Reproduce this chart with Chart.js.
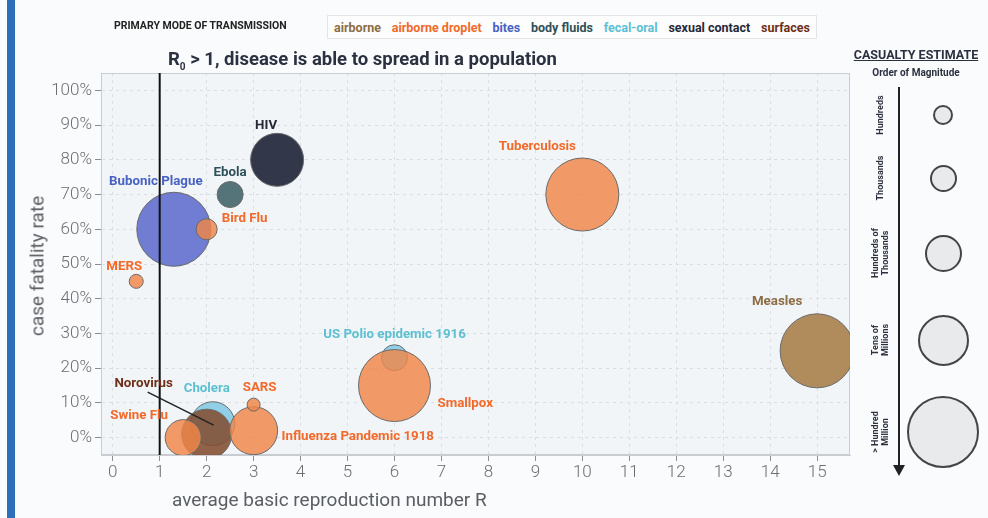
<!DOCTYPE html>
<html>
<head>
<meta charset="utf-8">
<script src="https://cdn.jsdelivr.net/npm/chart.js@4.4.1/dist/chart.umd.min.js"></script>
<style>
body { margin: 0; background: #fafbfc; font-family: Roboto, "Noto Sans", sans-serif; }
#wrap { position: relative; width: 988px; height: 518px; overflow: hidden; }
#chart { position: absolute; left: 0; top: 0; }
.bar { position: absolute; left: 7px; top: 0; width: 8px; height: 518px; background: #2d6fba; }
.head { position: absolute; left: 114px; top: 19px; font-size: 10.5px; font-weight: 700; color: #222; }
.modes { position: absolute; left: 327px; top: 15px; width: 476px; height: 22px; padding: 0 6px;
  border: 1px solid #e2e4e6; background: #fdfdfd; display: flex; justify-content: space-between;
  align-items: center; font-size: 12.5px; font-weight: 700; }
.title { position: absolute; left: 168px; top: 48px; font-size: 18.5px; font-weight: 700; color: #2b3140; }
.title sub { font-size: 10px; }
.ytitle { position: absolute; left: 37px; top: 266px; transform: translate(-50%, -50%) rotate(-90deg);
  font-size: 19px; color: #5a5e63; white-space: nowrap; }
.xtitle { position: absolute; left: 172px; top: 488px; font-size: 19px; color: #5a5e63; }
.cas { position: absolute; left: 851px; top: 47px; width: 130px; text-align: center; font-size: 12.5px;
  font-weight: 700; color: #2b3140; text-decoration: underline; }
.mag { position: absolute; left: 851px; top: 67px; width: 130px; text-align: center; font-size: 10px;
  font-weight: 700; color: #2b3140; }
.arrow { position: absolute; left: 898px; top: 87px; width: 2px; height: 380px; background: #222; }
.head2 { position: absolute; left: 893px; top: 465px; width: 0; height: 0; border-left: 6px solid transparent;
  border-right: 6px solid transparent; border-top: 11px solid #222; }
.lvl { position: absolute; left: 880px; transform: translate(-50%, -50%) rotate(-90deg); text-align: center;
  font-size: 9px; font-weight: 700; line-height: 10px; color: #2b3140; white-space: nowrap; }
.dot { position: absolute; border: 2px solid #444; border-radius: 50%; background: #e9eaeb; box-sizing: border-box; }
</style>
</head>
<body>
<div id="wrap">
  <canvas id="chart" width="988" height="518"></canvas>
  <div class="bar"></div>
  <div class="head">PRIMARY MODE OF TRANSMISSION</div>
  <div class="modes" id="modes"></div>
  <div class="title">R<sub>0</sub> &gt; 1, disease is able to spread in a population</div>
  <div class="ytitle">case fatality rate</div>
  <div class="xtitle">average basic reproduction number R</div>
  <div class="cas">CASUALTY ESTIMATE</div>
  <div class="mag">Order of Magnitude</div>
  <div class="arrow"></div>
  <div class="head2"></div>
  <div id="levels"></div>
</div>
<script>
/* donnees */
var diseases = ["Cholera", "Norovirus", "Swine Flu", "Influenza Pandemic 1918", "SARS",
  "US Polio epidemic 1916", "Smallpox", "Bubonic Plague", "Bird Flu", "MERS", "Ebola", "HIV", "Tuberculosis", "Measles"];
var r0 = [2.13, 2.0, 1.5, 3.0, 3.0, 6.0, 6.0, 1.3, 2.0, 0.5, 2.5, 3.5, 10, 15];
var fatality = [4, 1, 0, 2, 9.5, 23, 15, 60, 60, 45, 70, 80, 70, 25];
var bubbleSize = [22, 25, 18, 24, 6.5, 13, 36, 37, 10.5, 7, 13, 26.5, 36.5, 37];
var mode = ["fecal-oral", "surfaces", "airborne droplet", "airborne droplet", "airborne droplet",
  "fecal-oral", "airborne droplet", "bites", "airborne droplet", "airborne droplet", "body fluids",
  "sexual contact", "airborne droplet", "airborne"];

var modes = ["airborne", "airborne droplet", "bites", "body fluids", "fecal-oral", "sexual contact", "surfaces"];
var xTicks = [0, 1, 2, 3, 4, 5, 6, 7, 8, 9, 10, 11, 12, 13, 14, 15];
var yTicks = [0, 10, 20, 30, 40, 50, 60, 70, 80, 90, 100];
var casualtyLevels = ["Hundreds", "Thousands", "Hundreds of<br>Thousands", "Tens of<br>Millions", "&gt; Hundred<br>Million"];

/* couleurs */
var textColors = {
  "airborne": "#8c6d44", "airborne droplet": "#f26a2a", "bites": "#4862c2", "body fluids": "#2e5058",
  "fecal-oral": "#5cc0d2", "sexual contact": "#262838", "surfaces": "#6e2e18"
};
var fillColors = {
  "airborne": "rgba(170,130,78,0.92)", "airborne droplet": "rgba(240,134,72,0.82)",
  "bites": "rgba(98,112,205,0.9)", "body fluids": "rgba(70,104,110,0.92)",
  "fecal-oral": "rgba(128,200,228,0.85)", "sexual contact": "rgba(40,44,64,0.95)",
  "surfaces": "rgba(130,78,48,0.88)"
};

/* position des etiquettes par rapport au centre des bulles */
var labelPos = [[-6, -35, "center"], [-63, -50, "center"], [-44, -22, "center"], [28, 6, "left"],
  [6, -17, "center"], [0, -23, "center"], [43, 18, "left"], [-18, -48, "center"], [15, -11, "left"],
  [-12, -15, "center"], [0, -22, "center"], [-11, -34, "center"], [-45, -48, "center"], [-40, -49, "center"]];

/* legende du haut */
var modesBox = document.getElementById("modes");
modes.forEach(function(m) {
  var s = document.createElement("span");
  s.textContent = m;
  s.style.color = textColors[m];
  modesBox.appendChild(s);
});

/* legende de droite */
var levelY = [115, 178, 253, 340, 432];
var levelR = [10, 13.5, 18.5, 25.5, 36];
var levels = document.getElementById("levels");
casualtyLevels.forEach(function(txt, i) {
  var l = document.createElement("div");
  l.className = "lvl";
  l.style.top = levelY[i] + "px";
  l.innerHTML = txt;
  levels.appendChild(l);
  var d = document.createElement("div");
  d.className = "dot";
  d.style.left = (943 - levelR[i]) + "px";
  d.style.top = (levelY[i] - levelR[i]) + "px";
  d.style.width = d.style.height = (2 * levelR[i]) + "px";
  levels.appendChild(d);
});

var fondPlugin = {
  id: "fond",
  beforeDraw: function(chart) {
    var a = chart.chartArea, c = chart.ctx;
    c.save();
    c.fillStyle = "#f2f5f8";
    c.fillRect(a.left, a.top, a.right - a.left, a.bottom - a.top);
    c.restore();
  },
  beforeDatasetsDraw: function(chart) {
    var a = chart.chartArea, c = chart.ctx;
    c.save();
    c.strokeStyle = "#c9cdd2";
    c.lineWidth = 1;
    c.strokeRect(a.left + 0.5, a.top + 0.5, a.right - a.left - 1, a.bottom - a.top - 1);
    c.restore();
  }
};

var etiquettesPlugin = {
  id: "etiquettes",
  afterDatasetsDraw: function(chart) {
    var c = chart.ctx, a = chart.chartArea;
    var xs = chart.scales.x.getPixelForValue(1);
    c.save();
    // ligne R0 = 1
    c.strokeStyle = "#111";
    c.lineWidth = 2;
    c.beginPath();
    c.moveTo(xs, a.top);
    c.lineTo(xs, a.bottom);
    c.stroke();

    var pts = chart.getDatasetMeta(0).data;
    c.font = "700 13.3px Roboto";
    c.textBaseline = "middle";
    pts.forEach(function(p, i) {
      var lp = labelPos[i];
      var lx = p.x + lp[0], ly = p.y + lp[1];
      if (diseases[i] == "Norovirus") {
        c.strokeStyle = "#222";
        c.lineWidth = 1.5;
        c.beginPath();
        c.moveTo(lx + 4, ly + 8);
        c.lineTo(p.x + 7, p.y - 9);
        c.stroke();
      }
      c.textAlign = lp[2];
      c.fillStyle = textColors[mode[i]];
      c.fillText(diseases[i], lx, ly);
    });
    c.restore();
  }
};

var tickFont = { family: "Roboto", size: 17, weight: 300 };

var chart = new Chart(document.getElementById("chart").getContext("2d"), {
  type: "bubble",
  data: {
    datasets: [{
      label: "diseases",
      data: diseases.map(function(d, i) { return { x: r0[i], y: fatality[i], r: bubbleSize[i] }; }),
      backgroundColor: mode.map(function(m) { return fillColors[m]; }),
      borderColor: "#6a6a6a",
      borderWidth: 1,
      hoverRadius: 0,
      clip: 0
    }]
  },
  options: {
    responsive: false,
    animation: false,
    events: [],
    layout: { padding: { left: 0, top: 73, right: 138, bottom: 0 } },
    plugins: { legend: { display: false }, tooltip: { enabled: false } },
    scales: {
      x: {
        type: "linear",
        min: -0.25,
        max: 15.7,
        afterBuildTicks: function(s) { s.ticks = xTicks.map(function(v) { return { value: v }; }); },
        afterFit: function(s) { s.height = 63; },
        ticks: { color: "#6b6f74", font: tickFont, padding: 2, maxRotation: 0 },
        grid: { color: "#d9dee4", tickColor: "#8a8e93", tickLength: 6, lineWidth: 1 },
        border: { color: "#c9cdd2", dash: [3, 4] }
      },
      y: {
        type: "linear",
        min: -5,
        max: 105,
        afterBuildTicks: function(s) { s.ticks = yTicks.map(function(v) { return { value: v }; }); },
        afterFit: function(s) { s.width = 101; },
        ticks: { color: "#6b6f74", font: tickFont, padding: 3, callback: function(v) { return v + "%"; } },
        grid: { color: "#d9dee4", tickColor: "#8a8e93", tickLength: 6, lineWidth: 1 },
        border: { color: "#c9cdd2", dash: [3, 4] }
      }
    }
  },
  plugins: [fondPlugin, etiquettesPlugin]
});
</script>
</body>
</html>
